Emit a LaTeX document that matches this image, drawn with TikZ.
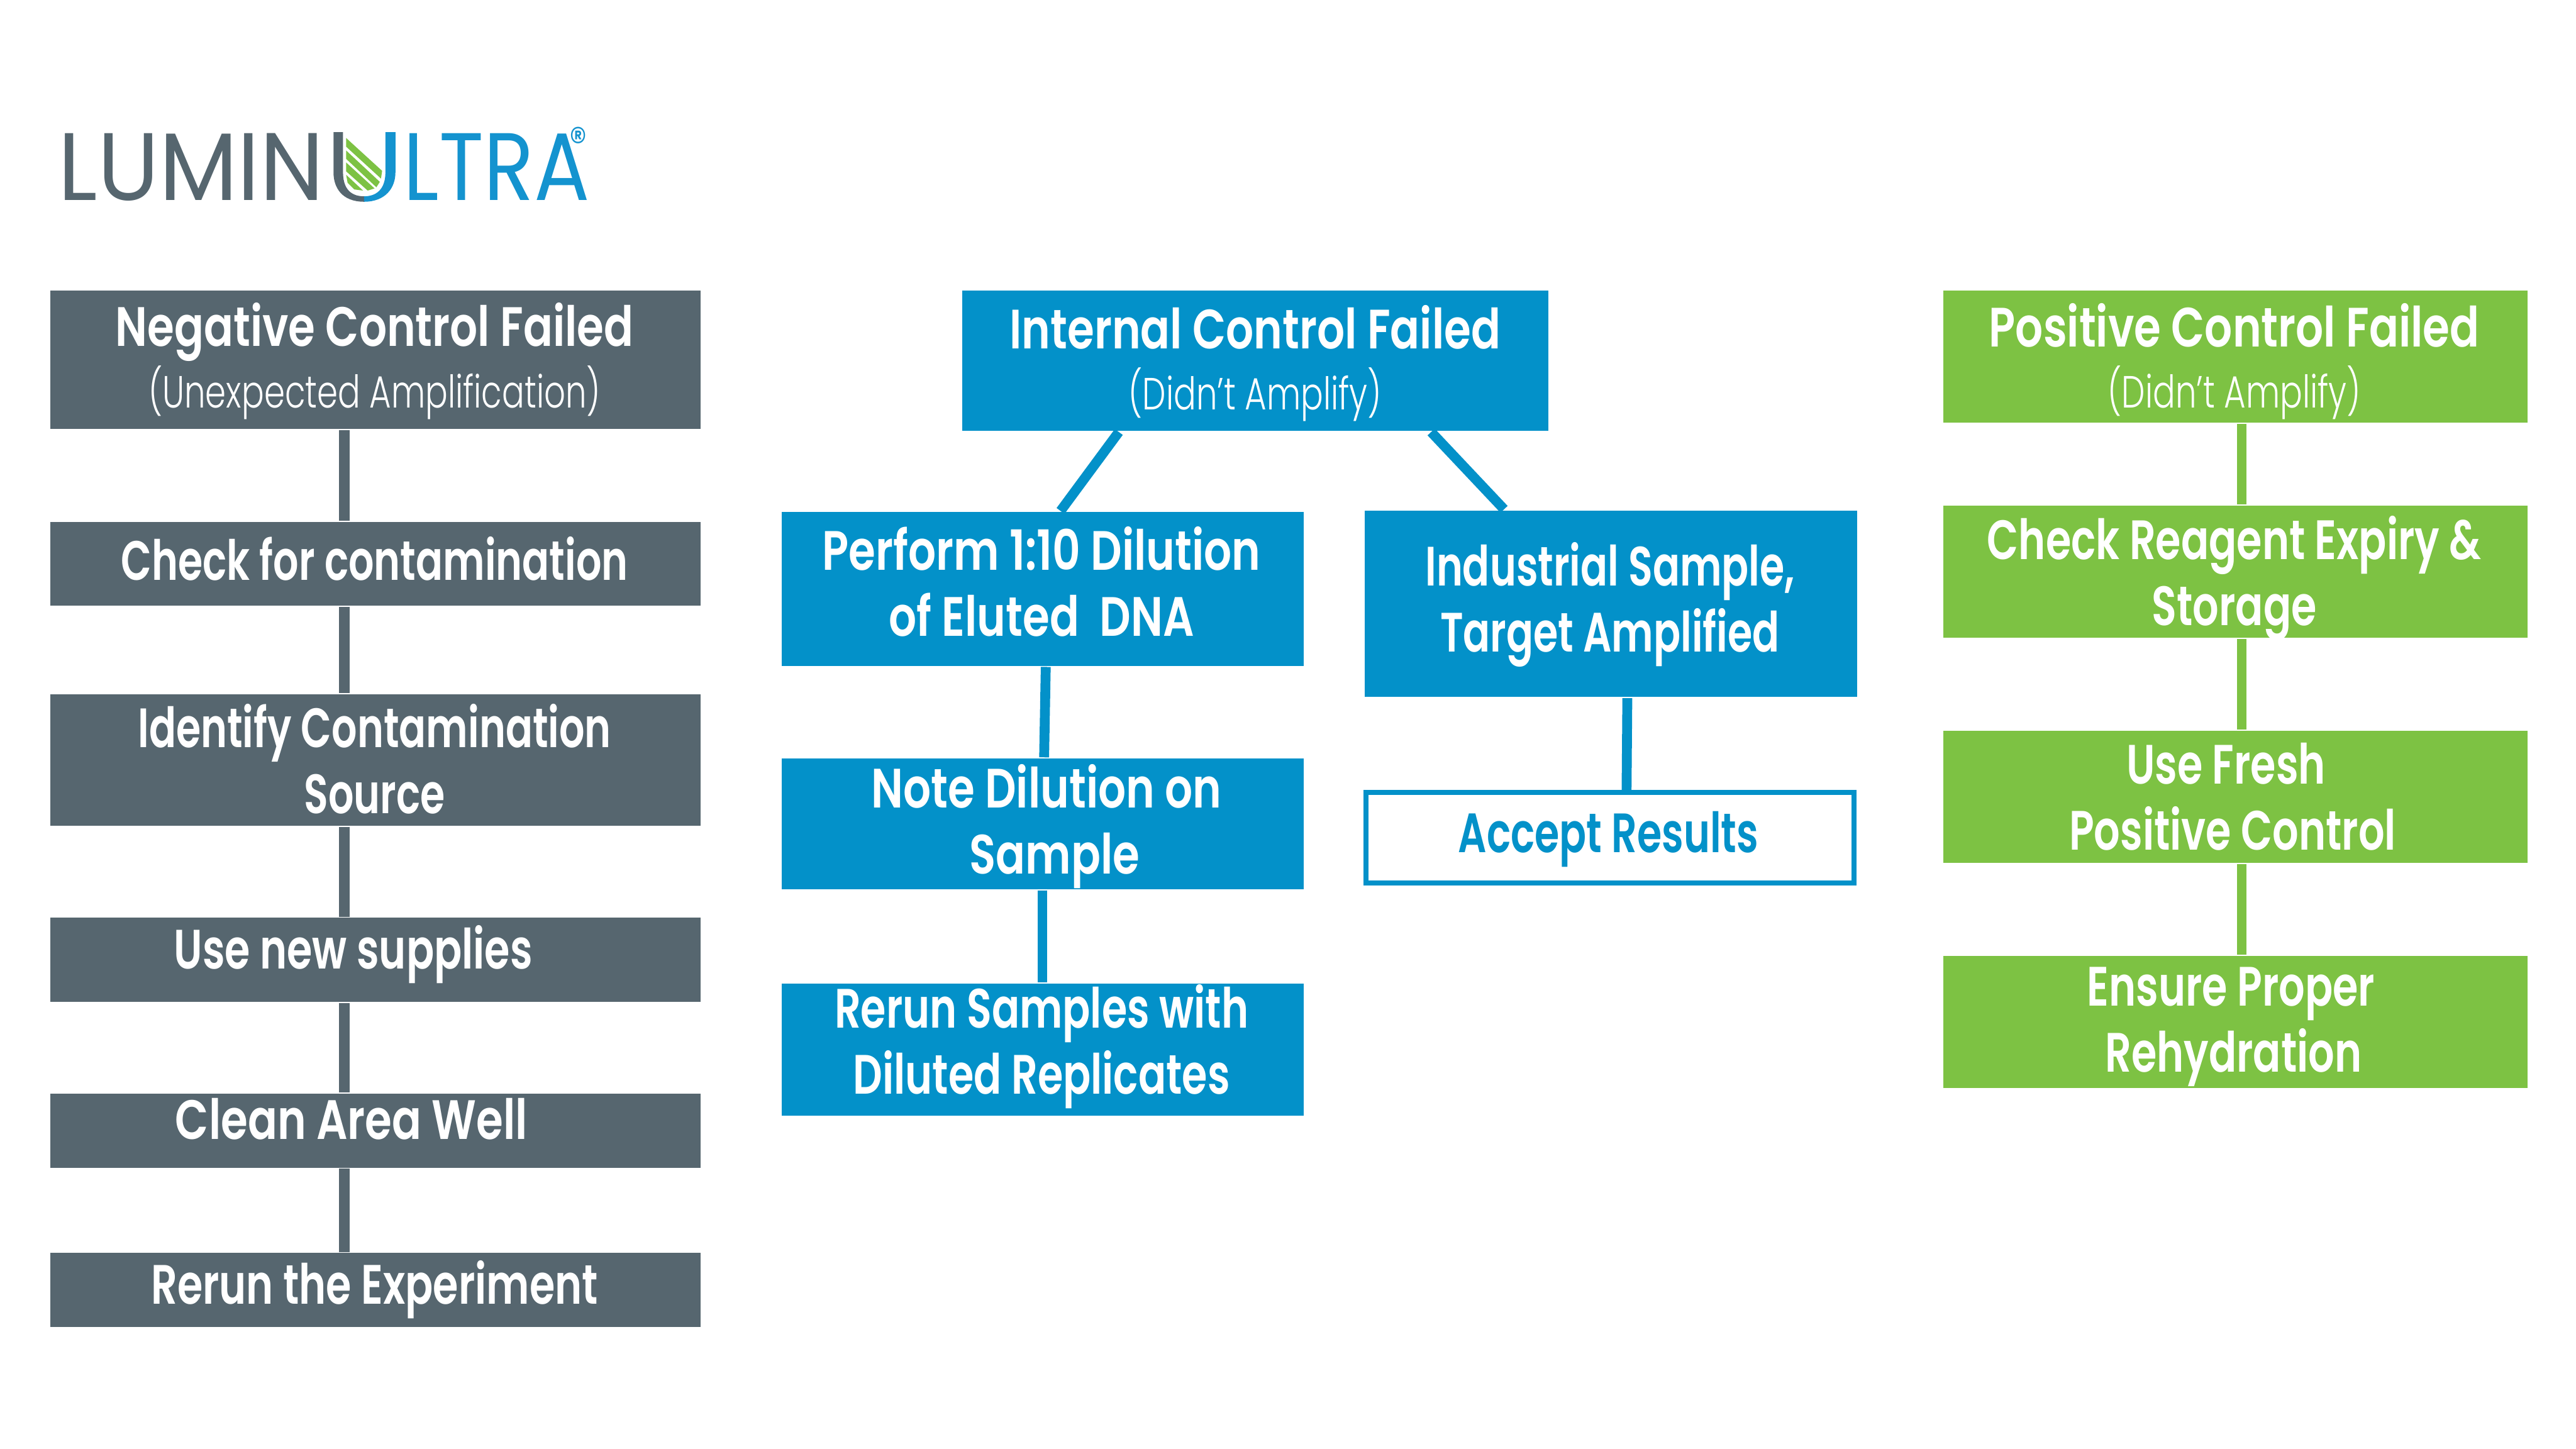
\documentclass[tikz,border=0pt]{standalone}
\usepackage{fontspec}
\usepackage{tikz}

\newfontfamily\headfont[FakeStretch=0.74]{Poppins SemiBold}
\newfontfamily\wideheadfont[FakeStretch=0.785]{Poppins SemiBold}
\newfontfamily\narrowheadfont[FakeStretch=0.72]{Poppins SemiBold}
\newfontfamily\subfont[FakeStretch=0.74]{Poppins Light}
\newfontfamily\logofont[FakeStretch=0.86]{Poppins}
\newfontfamily\logoleftfont[FakeStretch=0.95]{Poppins}

\definecolor{lumgrey}{HTML}{56666F}
\definecolor{lumblue}{HTML}{0391C9}
\definecolor{logoblue}{HTML}{1493CF}
\definecolor{lumgreen}{HTML}{7DC243}

\tikzset{
  greybox/.style={fill=lumgrey, anchor=north west, inner sep=0pt, minimum width=3.955cm},
  bluebox/.style={fill=lumblue, anchor=north west, inner sep=0pt},
  greenbox/.style={fill=lumgreen, anchor=north west, inner sep=0pt, minimum width=3.555cm},
  boxtext/.style={text=white, align=center, inner sep=0pt, font=\headfont\fontsize{9.6}{11.4}\selectfont},
  widetext/.style={boxtext, font=\wideheadfont\fontsize{9.6}{11.4}\selectfont},
  narrowtext/.style={boxtext, font=\narrowheadfont\fontsize{9.6}{11.4}\selectfont},
  subtext/.style={text=white, inner sep=0pt, font=\subfont\fontsize{7.8}{9}\selectfont},
  greyline/.style={draw=lumgrey, line width=0.065cm},
  blueline/.style={draw=lumblue, line width=0.06cm},
  greenline/.style={draw=lumgreen, line width=0.06cm}
}

\begin{document}
\begin{tikzpicture}[x=0.01cm, y=-0.01cm]
  \useasboundingbox (0,0) rectangle (1568,882);

  % logo
  \node[anchor=base east, inner sep=0pt, text=lumgrey, font=\logoleftfont\fontsize{16.6}{17}\selectfont] (logoleft) at (198,122) {LUMIN};
  \node[anchor=base west, inner sep=0pt, text=logoblue, font=\logofont\fontsize{16.6}{17}\selectfont] (logoright) at (245,122) {LTRA};
  \node[inner sep=0pt, text=logoblue, font=\logofont\fontsize{7}{8}\selectfont] (logoreg) at (352,86) {®};
  \fill[lumgrey] (203,80.4) -- (208.8,80.4) -- (208.8,105) .. controls (208.8,113) and (212,119.5) .. (221.6,119.5)
    -- (221.6,122.8) .. controls (208,122.8) and (203,114) .. (203,105) -- cycle;
  \fill[logoblue] (240.7,80.4) -- (234.6,80.4) -- (234.6,105) .. controls (234.6,113) and (231,119.5) .. (221.6,119.5)
    -- (221.6,122.8) .. controls (235,122.8) and (240.7,114) .. (240.7,105) -- cycle;
  \fill[lumgreen] (210.7,84) -- (232.6,104) -- (231.9,108.7) -- (210.7,89.3) -- cycle;
  \fill[lumgreen] (210.7,91.6) -- (231.2,110.7) -- (229.1,114) -- (210.7,96.7) -- cycle;
  \fill[lumgreen] (210.7,98.9) -- (228,114.7) -- (223.8,116) -- (210.7,104.3) -- cycle;
  \fill[lumgreen] (210.7,106.4) -- (221,116) -- (215.6,115.3) -- (211.6,111.3) -- cycle;

  % negative control column
  \node[greybox, minimum height=0.845cm] (negctl) at (30,176) {};
  \node[greybox, minimum height=0.51cm] (chkcont) at (30,317) {};
  \node[greybox, minimum height=0.80cm] (idsource) at (30,422) {};
  \node[greybox, minimum height=0.51cm] (newsup) at (30,558) {};
  \node[greybox, minimum height=0.45cm] (cleanarea) at (30,665) {};
  \node[greybox, minimum height=0.45cm] (rerunexp) at (30,762) {};

  \draw[greyline] ([xshift=-0.19cm]negctl.south) -- ([xshift=-0.19cm]chkcont.north);
  \draw[greyline] ([xshift=-0.19cm]chkcont.south) -- ([xshift=-0.19cm]idsource.north);
  \draw[greyline] ([xshift=-0.19cm]idsource.south) -- ([xshift=-0.19cm]newsup.north);
  \draw[greyline] ([xshift=-0.19cm]newsup.south) -- ([xshift=-0.19cm]cleanarea.north);
  \draw[greyline] ([xshift=-0.19cm]cleanarea.south) -- ([xshift=-0.19cm]rerunexp.north);

  \node[widetext] (negctltxt) at (228,202) {Negative Control Failed};
  \node[subtext] (negsubtxt) at (228,239) {(Unexpected Amplification)};
  \node[narrowtext] (chkconttxt) at (228,340) {Check for contamination};
  \node[narrowtext] (idsourcetxt) at (228,462) {Identify Contamination\\Source};
  \node[boxtext] (newsuptxt) at (215,581) {Use new supplies};
  \node[widetext] (cleanareatxt) at (214,681) {Clean Area Well};
  \node[boxtext] (rerunexptxt) at (228,785) {Rerun the Experiment};

  % internal control column
  \node[bluebox, minimum width=3.565cm, minimum height=0.855cm] (intctl) at (585,176) {};
  \node[bluebox, minimum width=3.175cm, minimum height=0.935cm] (dilute) at (475,311) {};
  \node[bluebox, minimum width=2.995cm, minimum height=1.135cm] (indsample) at (830,310) {};
  \node[bluebox, minimum width=3.175cm, minimum height=0.795cm] (notedil) at (475,461) {};
  \node[bluebox, minimum width=3.175cm, minimum height=0.805cm] (rerunsam) at (475,598) {};
  \node[draw=lumblue, fill=white, line width=0.03cm, anchor=north west, inner sep=0pt, minimum width=2.97cm, minimum height=0.55cm] (accept) at (830,481) {};

  \draw[blueline] ([xshift=-0.83cm]intctl.south) -- ([xshift=0.11cm]dilute.north);
  \draw[blueline] ([xshift=1.07cm]intctl.south) -- ([xshift=-0.65cm]indsample.north);
  \draw[blueline] ([xshift=0.02cm]dilute.south) -- ([xshift=0.01cm]notedil.north);
  \draw[blueline] (notedil.south) -- (rerunsam.north);
  \draw[blueline] ([xshift=0.10cm]indsample.south) -- ([xshift=0.10cm]accept.north);

  \node[widetext] (intctltxt) at (764,199) {Internal Control Failed};
  \node[subtext] (intsubtxt) at (764,240) {(Didn’t Amplify)};
  \node[widetext] (dilutetxt) at (634,354) {Perform 1:10 Dilution\\of Eluted\ \ DNA};
  \node[narrowtext] (indsampletxt) at (980,368) {Industrial Sample,\\Target Amplified};
  \node[widetext] (notediltxt) at (637,503) {Note Dilution on\\\hspace*{0.1cm}Sample};
  \node[boxtext] (rerunsamtxt) at (634,637) {Rerun Samples with\\Diluted Replicates};
  \node[narrowtext, text=lumblue] (accepttxt) at (979,511) {Accept Results};

  % positive control column
  \node[greenbox, minimum height=0.805cm] (posctl) at (1182,176) {};
  \node[greenbox, minimum height=0.805cm] (chkreagent) at (1182,307) {};
  \node[greenbox, minimum height=0.805cm] (freshpos) at (1182,444) {};
  \node[greenbox, minimum height=0.805cm] (rehydrate) at (1182,581) {};

  \draw[greenline] ([xshift=0.04cm]posctl.south) -- ([xshift=0.04cm]chkreagent.north);
  \draw[greenline] ([xshift=0.04cm]chkreagent.south) -- ([xshift=0.04cm]freshpos.north);
  \draw[greenline] ([xshift=0.04cm]freshpos.south) -- ([xshift=0.04cm]rehydrate.north);

  \node[widetext] (posctltxt) at (1360,198) {Positive Control Failed};
  \node[subtext] (possubtxt) at (1360,239) {(Didn’t Amplify)};
  \node[boxtext] (chkreagenttxt) at (1360,352) {Check Reagent Expiry \&\\Storage};
  \node[boxtext] (freshpostxt) at (1359,485) {\hspace*{-0.08cm}Use Fresh\\Positive Control};
  \node[boxtext] (rehydratetxt) at (1358,625) {Ensure Proper\\\hspace*{0.03cm}Rehydration};
\end{tikzpicture}
\end{document}
